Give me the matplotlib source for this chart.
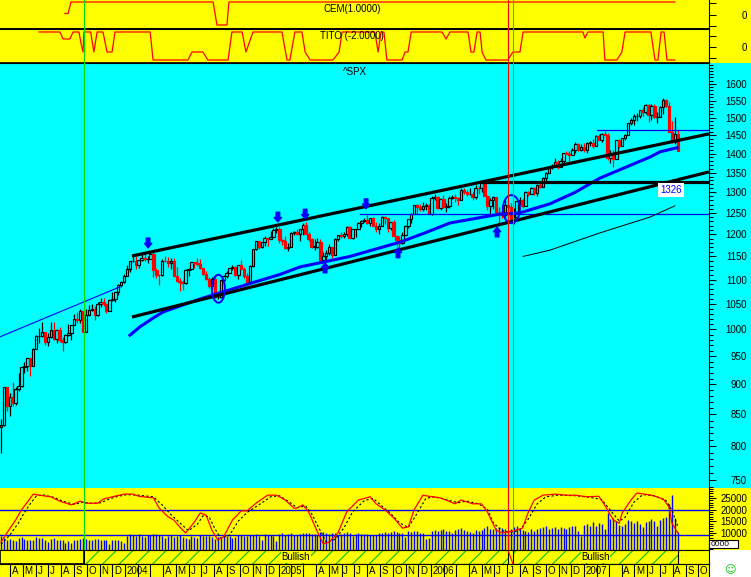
import numpy as np
import pandas as pd
import matplotlib
matplotlib.use("Agg")
import matplotlib.pyplot as plt
from matplotlib.patches import Rectangle, Ellipse
from matplotlib.transforms import ScaledTranslation, offset_copy
from matplotlib.ticker import FixedLocator, NullFormatter, NullLocator, FuncFormatter

plt.rcParams['font.family'] = ['Liberation Sans', 'DejaVu Sans']
plt.rcParams['hatch.linewidth'] = 0.8

YELLOW = '#FFFF00'
CYAN = '#00FFFF'
RED = '#FF0000'
BLUE = '#0000FF'
GREEN = '#00E000'

# weekly ^SPX candles, week 0 = week of 10 Mar 2003
opens = [829, 833, 895, 863, 878, 868, 893, 898, 930, 933, 946, 933, 964, 987, 988, 995, 976, 985, 998, 982,
         998, 980, 977, 990, 993, 1008, 1021, 1018, 1036, 996, 1029, 1038, 1039, 1028, 1050, 1053, 1050, 1035, 1058, 1061,
         1074, 1088, 1095,
         1108, 1122, 1139, 1141, 1131, 1142, 1146, 1144, 1145, 1156, 1120, 1110, 1109, 1141, 1139, 1135, 1140, 1107,
         1098, 1096, 1093, 1121, 1122, 1137, 1135, 1134, 1125, 1112, 1101, 1086, 1102, 1064, 1064, 1099, 1107, 1114,
         1124, 1128, 1110, 1131, 1122, 1108, 1095, 1130, 1166, 1185, 1171, 1182, 1191, 1189, 1194, 1210,
         1212, 1186, 1184, 1168, 1171, 1203, 1206, 1201, 1211, 1222, 1201, 1190, 1172, 1172, 1182, 1142, 1152, 1157,
         1172, 1154, 1189, 1198, 1196, 1201, 1216, 1191, 1211, 1212, 1227, 1230, 1234, 1226, 1237, 1220, 1212, 1218,
         1241, 1237, 1215, 1229, 1196, 1187, 1179, 1198, 1220, 1235, 1248, 1268, 1265, 1259, 1267, 1268,
         1248, 1285, 1288, 1262, 1284, 1264, 1267, 1287, 1289, 1287, 1282, 1307, 1302, 1295, 1295, 1289, 1311, 1310,
         1325, 1291, 1267, 1280, 1288, 1253, 1252, 1245, 1270, 1265, 1236, 1240, 1278, 1280, 1266, 1302, 1296, 1311,
         1299, 1319, 1314, 1336, 1350, 1365, 1368, 1377, 1364, 1380, 1401, 1400, 1396, 1409, 1427, 1410,
         1418, 1409, 1430, 1430, 1422, 1449, 1438, 1455, 1451, 1388, 1402, 1386, 1437, 1421, 1443, 1452, 1484, 1494,
         1505, 1505, 1522, 1515, 1536, 1507, 1533, 1502, 1503, 1530, 1553, 1534, 1458, 1433, 1453]
highs = [842, 896, 895, 885, 905, 896, 920, 931, 939, 947, 946, 965, 990, 1002, 1015, 995, 994, 1015, 1015, 1000,
         1004, 985, 992, 1011, 1009, 1030, 1033, 1040, 1036, 1039, 1048, 1049, 1045, 1053, 1062, 1063, 1050, 1060, 1074, 1075,
         1091, 1098, 1112,
         1131, 1140, 1155, 1150, 1143, 1158, 1158, 1151, 1163, 1160, 1125, 1112, 1144, 1150, 1148, 1146, 1147, 1127,
         1103, 1099, 1123, 1124, 1137, 1137, 1146, 1145, 1125, 1119, 1105, 1106, 1109, 1075, 1100, 1110, 1119, 1125,
         1131, 1129, 1131, 1142, 1127, 1115, 1131, 1167, 1185, 1185, 1182, 1197, 1192, 1207, 1214, 1217,
         1217, 1190, 1196, 1180, 1205, 1208, 1212, 1212, 1225, 1229, 1206, 1192, 1189, 1191, 1190, 1159, 1164, 1178,
         1172, 1192, 1199, 1205, 1204, 1219, 1219, 1204, 1212, 1229, 1234, 1237, 1245, 1237, 1240, 1229, 1227, 1243,
         1243, 1237, 1229, 1234, 1198, 1197, 1204, 1221, 1235, 1249, 1268, 1272, 1272, 1276, 1275, 1271,
         1290, 1295, 1290, 1286, 1294, 1275, 1292, 1294, 1297, 1289, 1310, 1310, 1306, 1310, 1300, 1318, 1316, 1326,
         1326, 1294, 1285, 1290, 1288, 1263, 1263, 1280, 1281, 1274, 1261, 1281, 1289, 1283, 1303, 1303, 1313, 1314,
         1322, 1328, 1340, 1353, 1366, 1372, 1389, 1382, 1389, 1403, 1407, 1407, 1416, 1431, 1430, 1427,
         1429, 1431, 1435, 1441, 1452, 1453, 1457, 1461, 1456, 1411, 1411, 1438, 1439, 1444, 1454, 1485, 1498, 1510,
         1514, 1523, 1530, 1540, 1540, 1539, 1540, 1515, 1533, 1556, 1555, 1546, 1489, 1503, 1466]
lows = [789, 831, 855, 847, 864, 865, 888, 896, 920, 924, 915, 932, 963, 975, 985, 970, 969, 983, 980, 974,
        976, 960, 974, 988, 980, 1008, 1012, 1013, 995, 995, 1027, 1036, 1018, 1027, 1044, 1045, 1031, 1035, 1055, 1053,
        1068, 1084, 1094,
        1108, 1117, 1137, 1122, 1124, 1139, 1139, 1136, 1145, 1106, 1103, 1088, 1108, 1138, 1126, 1122, 1107, 1098,
        1076, 1079, 1090, 1107, 1120, 1124, 1130, 1123, 1109, 1100, 1083, 1078, 1062, 1060, 1063, 1096, 1104, 1114,
        1120, 1108, 1101, 1122, 1103, 1090, 1092, 1128, 1164, 1167, 1169, 1173, 1173, 1189, 1194, 1203,
        1180, 1175, 1167, 1163, 1171, 1198, 1199, 1184, 1198, 1200, 1185, 1169, 1165, 1169, 1142, 1136, 1143, 1154,
        1146, 1154, 1185, 1191, 1192, 1196, 1191, 1188, 1194, 1211, 1217, 1228, 1223, 1218, 1218, 1206, 1201, 1218,
        1224, 1205, 1209, 1195, 1173, 1168, 1178, 1198, 1215, 1227, 1248, 1247, 1255, 1255, 1258, 1248,
        1245, 1280, 1260, 1258, 1262, 1253, 1261, 1283, 1277, 1268, 1281, 1295, 1291, 1294, 1280, 1283, 1295, 1302,
        1291, 1256, 1245, 1259, 1254, 1219, 1238, 1237, 1260, 1235, 1224, 1240, 1269, 1262, 1266, 1290, 1295, 1294,
        1291, 1310, 1314, 1327, 1348, 1359, 1366, 1360, 1364, 1372, 1398, 1375, 1396, 1403, 1408, 1407,
        1404, 1403, 1420, 1416, 1420, 1438, 1433, 1450, 1384, 1374, 1364, 1386, 1416, 1421, 1438, 1452, 1478, 1480,
        1491, 1498, 1505, 1510, 1487, 1492, 1500, 1484, 1503, 1510, 1530, 1458, 1430, 1427, 1406]
closes = [833, 895, 863, 878, 868, 893, 898, 930, 933, 946, 933, 964, 987, 988, 995, 976, 985, 998, 982, 998,
          980, 977, 990, 993, 1008, 1021, 1018, 1036, 996, 1029, 1038, 1039, 1028, 1050, 1053, 1050, 1035, 1058, 1061, 1074,
          1088, 1095, 1108,
          1122, 1139, 1141, 1131, 1142, 1146, 1144, 1145, 1156, 1120, 1110, 1109, 1141, 1139, 1135, 1140, 1107, 1098,
          1096, 1093, 1121, 1122, 1137, 1135, 1134, 1125, 1112, 1101, 1086, 1102, 1064, 1064, 1099, 1107, 1114, 1124,
          1128, 1110, 1131, 1122, 1108, 1095, 1130, 1166, 1185, 1171, 1182, 1191, 1189, 1194, 1210, 1212,
          1186, 1184, 1168, 1171, 1203, 1206, 1201, 1211, 1222, 1201, 1190, 1172, 1172, 1182, 1142, 1152, 1157, 1172,
          1154, 1189, 1198, 1196, 1201, 1216, 1191, 1211, 1212, 1227, 1230, 1234, 1226, 1237, 1220, 1212, 1218, 1241,
          1237, 1215, 1229, 1196, 1187, 1179, 1198, 1220, 1235, 1248, 1268, 1265, 1259, 1267, 1268, 1248,
          1285, 1288, 1262, 1284, 1264, 1267, 1287, 1289, 1287, 1282, 1307, 1302, 1295, 1295, 1289, 1311, 1310, 1325,
          1291, 1267, 1280, 1288, 1253, 1252, 1245, 1270, 1265, 1236, 1240, 1278, 1280, 1266, 1302, 1296, 1311, 1299,
          1319, 1314, 1336, 1350, 1365, 1368, 1377, 1364, 1380, 1401, 1400, 1396, 1409, 1427, 1410, 1418,
          1409, 1430, 1430, 1422, 1449, 1438, 1455, 1451, 1388, 1402, 1386, 1437, 1421, 1443, 1452, 1484, 1494, 1505,
          1505, 1522, 1515, 1536, 1507, 1533, 1502, 1503, 1530, 1553, 1534, 1458, 1433, 1453, 1407]
# weekly volume, thousands
volume_k = [8.5, 8.0, 7.2, 7.5, 7.0, 6.5, 7.8, 8.2, 7.5, 7.0, 6.8, 7.2, 8.4, 7.9, 8.0, 7.1, 6.2, 7.5, 8.0, 7.2,
            7.0, 6.8, 5.8, 6.5, 5.5, 7.0, 7.2, 7.4, 8.0, 7.6, 7.0, 6.8, 7.3, 7.4, 7.1, 6.9, 6.8, 5.2, 6.9, 7.2,
            7.0, 6.6, 5.5,
            8.5, 9.4, 9.2, 8.8, 9.5, 8.5, 8.2, 9.0, 9.3, 9.6, 9.7, 9.0, 8.6, 8.0, 8.8, 9.0, 8.4, 8.9, 9.1, 8.2,
            7.8, 7.6, 8.7, 8.4, 7.9, 9.2, 8.5, 8.8, 8.9, 8.1, 7.5, 8.3, 7.9, 8.6, 8.8, 8.5, 8.0, 8.4, 9.0, 9.2,
            8.7, 8.9, 9.3, 9.0, 9.4, 8.6, 7.2, 9.5, 9.1, 9.3, 8.8, 6.5,
            9.5, 9.8, 9.2, 9.6, 9.9, 9.3, 9.0, 9.4, 9.8, 10.2, 10.0, 9.7, 9.4, 9.1, 10.5, 10.3, 9.8, 9.6, 9.9, 10.1,
            9.2, 9.7, 9.8, 10.4, 10.0, 8.9, 9.5, 9.9, 9.7, 9.4, 9.6, 9.3, 9.0, 9.2, 9.8, 10.2, 10.5, 10.0, 10.6, 10.7,
            10.3, 10.1, 10.0, 8.4, 10.8, 10.6, 10.9, 10.7, 9.8, 10.2, 7.5, 7.9,
            10.9, 11.2, 10.8, 11.4, 11.6, 11.0, 10.9, 10.2, 11.1, 11.5, 12.0, 11.3, 11.0, 10.6, 10.2, 11.2, 10.9, 11.4,
            12.2, 12.8, 11.9, 11.6, 12.0, 12.6, 12.2, 11.8, 11.0, 11.5, 12.4, 12.9, 11.8, 11.2, 10.8, 10.5, 11.6, 10.9,
            11.7, 12.3, 12.5, 12.8, 11.9, 12.2, 12.6, 11.9, 12.4, 12.0, 11.5, 12.7, 12.9, 13.2, 11.0, 8.5,
            13.5, 14.0, 13.2, 14.5, 13.0, 14.2, 13.8, 11.5, 18.5, 16.0, 16.5, 15.0, 13.5, 12.8, 14.0, 15.5, 15.0, 14.2,
            15.2, 13.8, 12.5, 14.8, 15.3, 16.0, 15.2, 12.9, 15.6, 16.5, 17.0, 22.5, 26.5, 16.5, 10.5]

# overlays on the price panel (week, price)
ma_weeks = [44.0, 47.4, 51.9, 55.3, 61.1, 67.9, 85.0, 95.2, 102.0, 119.1, 136.2, 144.7, 153.2, 164.5, 170.3,
            177.1, 187.4, 195.9, 204.4, 221.5, 224.9, 230.7]
ma_vals = [989, 1005, 1022, 1034, 1046, 1060, 1092, 1111, 1127, 1150, 1182, 1203, 1226, 1240, 1247,
           1250, 1272, 1300, 1336, 1391, 1405, 1416]
long_ma_weeks = [178.2, 187.4, 204.4, 221.5, 230.0]
long_ma_vals = [1150, 1164, 1203, 1240, 1267]
upper_channel = ([44.7, 241.6], [1151, 1454])
lower_channel = ([44.7, 241.6], [1024, 1352])
support_1326 = ([163.5, 241.6], [1326, 1326])
early_trend = ([-0.34, 40.6], [986, 1085])
blue_level_low = ([122.5, 241.6], [1247, 1247])
blue_level_high = ([203.4, 241.6], [1465, 1465])
down_arrows = [(50.2, 1180), (94.5, 1240), (103.8, 1247), (124.6, 1272)]
up_arrows = [(110.6, 1125), (135.5, 1158), (169.3, 1205)]
circles = [(74.2, 1081, 0.13, 0.28), (174.2, 1259, 0.17, 0.28)]
cursor_green = [28.33, 174.74]
cursor_red = [173.0]

# indicator panels (week, value)
cem_weeks = [21.8, 22.9, 23.9, 72.4, 73.7, 77.1, 77.8, 230.0]
cem_vals = [0, 0, 1, 1, -1, -1, 1, 1]
tito_weeks = [13.0, 20.1, 21.2, 23.5, 24.6, 26.6, 27.3, 28.0, 28.3, 29.4, 30.6, 31.7, 32.8, 34.8, 36.2, 37.9, 38.9,
              50.9, 51.9, 63.8, 65.2, 68.9, 70.6, 77.5, 78.8, 82.3, 83.6, 86.0, 95.9, 97.6, 98.6, 100.3, 102.7,
              103.8, 105.5, 113.3, 115.4, 116.4, 127.6, 128.7, 129.7, 130.7, 131.7, 136.9, 137.9, 138.9, 140.0,
              150.5, 151.9, 153.2, 159.4, 160.4, 161.4, 162.5, 163.5, 164.2, 165.5, 173.0, 174.7, 177.1, 178.2,
              198.6, 199.3, 200.3, 205.5, 206.1, 210.2, 211.9, 213.0, 221.8, 223.2, 224.2, 225.3, 226.3, 227.3, 230.0]
tito_vals = [1.0, 1.0, 0.5, 0.5, 1.0, 1.0, 0.2, -0.43, 1.0, 1.0, 1.0, -0.43, 1.0, 1.0, -0.43, -0.43, 1.0,
             1.0, -1.0, -1.0, -0.43, -0.43, -1.0, -1.0, 1.0, 1.0, -0.43, 1.0, 1.0, -1.0, -1.0, 1.0, 1.0,
             -0.43, -1.0, -1.0, -0.43, 1.0, 1.0, -0.43, 1.0, 1.0, -1.0, -1.0, -0.43, -0.43, 1.0,
             1.0, 0.5, 1.0, 1.0, -0.43, -0.43, 1.0, 1.0, -0.43, -1.0, -1.0, -0.43, -0.43, 1.0,
             1.0, 0.57, 1.0, 1.0, -1.0, -1.0, -0.43, 1.0, 1.0, -1.0, -1.0, 1.0, 1.0, -1.0, -1.0]
stoch_k_weeks = [0, 2, 5, 7, 9, 11, 13, 17, 20, 24, 27, 29, 33, 35, 38, 42, 45, 47, 52, 54, 57, 59, 61, 63, 66,
                 68, 70, 72, 74, 76, 79, 82, 84, 87, 91, 94, 97, 100, 101, 103, 105, 108, 110, 112, 115, 118,
                 122, 126, 128, 131, 134, 137, 139, 141, 144, 146, 150, 155, 157, 161, 164, 166, 169, 171, 173,
                 175, 178, 180, 182, 185, 189, 193, 196, 200, 204, 206, 209, 211, 212, 215, 217, 222, 226, 228,
                 229, 231]
stoch_k = [9, 26, 50, 69, 83, 98, 96, 93, 85, 78, 85, 81, 81, 89, 93, 98, 98, 94, 91, 72, 56, 50, 37, 26, 46,
           63, 59, 31, 13, 19, 50, 67, 67, 81, 96, 96, 87, 72, 72, 78, 65, 28, 6, 9, 26, 65,
           87, 93, 80, 69, 54, 35, 37, 69, 96, 94, 91, 80, 87, 80, 80, 65, 31, 26, 28,
           30, 35, 65, 87, 96, 98, 96, 96, 93, 94, 78, 50, 44, 63, 87, 100, 96, 89, 74,
           44, 26]
stoch_d_weeks = [0, 3, 6, 8, 10, 12, 14, 18, 21, 25, 28, 31, 34, 37, 40, 43, 47, 52, 55, 58, 61, 64, 67, 69, 71,
                 73, 75, 78, 81, 84, 88, 92, 95, 98, 101, 104, 106, 109, 111, 114, 117, 120, 124, 127, 130, 133,
                 136, 139, 142, 145, 148, 151, 156, 159, 163, 166, 168, 171, 174, 177, 180, 183, 186, 190, 196,
                 201, 205, 208, 211, 213, 216, 219, 223, 227, 229, 231]
stoch_d = [5, 22, 45, 64, 80, 94, 97, 92, 85, 79, 83, 81, 82, 89, 94, 97, 96, 93, 78, 60, 45, 30, 42, 58, 56,
           34, 16, 22, 48, 64, 78, 93, 95, 85, 73, 76, 62, 30, 9, 14, 35, 65, 86, 90, 76, 62,
           45, 36, 62, 90, 93, 89, 82, 85, 80, 70, 45, 30, 27, 31, 52, 80, 93, 96, 95,
           92, 88, 68, 48, 55, 83, 97, 95, 86, 68, 38]
vol_levels = [20000, 9150]
bullish_spans = [(28.33, 173.0), (174.74, 231.06)]

W, H = 751, 577
XLIM = (-1 / 2.93, 708 / 2.93)
fig = plt.figure(figsize=(W / 100, H / 100), dpi=100)
fig.patch.set_facecolor('white')


def rect(top, bottom):
    return [0, 1 - bottom / H, 709 / W, (bottom - top) / H]


# right margin backgrounds
for top, bottom, col in [(0, 62.5, YELLOW), (62.5, 488, CYAN), (488, 550, YELLOW)]:
    fig.add_artist(Rectangle((709 / W, 1 - bottom / H), 42 / W, (bottom - top) / H,
                             transform=fig.transFigure, facecolor=col, edgecolor='none', zorder=-1))


def style(a, bg, top=True, bottom=True):
    a.set_facecolor(bg)
    a.set_xlim(XLIM)
    a.xaxis.set_major_locator(NullLocator())
    a.xaxis.set_minor_locator(NullLocator())
    a.spines['left'].set_visible(False)
    a.spines['top'].set_visible(top)
    a.spines['bottom'].set_visible(bottom)
    for s in a.spines.values():
        s.set_linewidth(0.8)
        s.set_color('black')
    a.yaxis.tick_right()
    a.tick_params(axis='y', which='major', direction='out', length=5, width=0.72, pad=22.4,
                  labelsize=7, colors='black')
    a.tick_params(axis='y', which='minor', direction='out', length=2.9, width=0.72)


def right_align(a):
    for t in a.yaxis.get_major_ticks():
        t.label2.set_horizontalalignment('right')


# CEM panel
ax_cem = fig.add_axes(rect(0, 29))
style(ax_cem, YELLOW, top=False)
ax_cem.spines['bottom'].set_linewidth(1.4)
ax_cem.set_ylim(-1.348, 1.174)
ax_cem.plot(cem_weeks, cem_vals, color=RED, lw=0.9)
ax_cem.yaxis.set_major_locator(FixedLocator([0.94, -0.13, -1.09]))
ax_cem.yaxis.set_major_formatter(FuncFormatter(lambda v, p: '0' if p == 1 else ''))
right_align(ax_cem)
ax_cem.text(0.497, 0.70, 'CEM(1.0000)', transform=ax_cem.transAxes, ha='center', va='center', fontsize=7)

# TITO panel
ax_tito = fig.add_axes(rect(29, 62.5))
style(ax_tito, YELLOW)
ax_tito.spines['bottom'].set_linewidth(1.2)
ax_tito.set_ylim(-1.179, 1.214)
ax_tito.plot(tito_weeks, tito_vals, color=RED, lw=0.9)
ax_tito.yaxis.set_major_locator(FixedLocator([0.736, -0.05, -0.879]))
ax_tito.yaxis.set_major_formatter(FuncFormatter(lambda v, p: '0' if p == 1 else ''))
right_align(ax_tito)
ax_tito.text(0.497, 0.78, 'TITO (-2.0000)', transform=ax_tito.transAxes, ha='center', va='center', fontsize=7)

# price panel
ax = fig.add_axes(rect(62.5, 488))
style(ax, CYAN, bottom=False)
ax.set_yscale('log')
ax.set_ylim(738.2, 1667)
ax.yaxis.set_major_locator(FixedLocator(list(range(750, 1601, 50))))
ax.yaxis.set_minor_locator(FixedLocator(list(range(740, 1661, 10))))
ax.yaxis.set_major_formatter(FuncFormatter(lambda v, p: f'{v:.0f}'))
ax.yaxis.set_minor_formatter(NullFormatter())
ax.tick_params(axis='y', which='minor', length=2.9, width=0.72)
right_align(ax)

for i, (o, h, l, c) in enumerate(zip(opens, highs, lows, closes)):
    up = c >= o
    col = 'black' if up else RED
    ax.vlines(i, l, h, color=col, lw=0.9, zorder=2)
    lo, hi = min(o, c), max(o, c)
    ax.add_patch(Rectangle((i - 0.42, lo), 0.84, max(hi - lo, 0.8), facecolor=CYAN if up else RED,
                           edgecolor=col, lw=0.85, zorder=2.5))

ax.plot(*early_trend, color=BLUE, lw=0.8, zorder=3)
ax.plot(*blue_level_low, color=BLUE, lw=0.9, zorder=3)
ax.plot(*blue_level_high, color=BLUE, lw=0.9, zorder=3)
ax.plot(ma_weeks, ma_vals, color=BLUE, lw=2.2, zorder=3.5)
ax.plot(long_ma_weeks, long_ma_vals, color='black', lw=0.7, zorder=3)
for line in (upper_channel, lower_channel, support_1326):
    ax.plot(*line, color='black', lw=2.3, zorder=4, solid_capstyle='butt')

for w, p in down_arrows + up_arrows:
    up = (w, p) in up_arrows
    s = 3.5
    tip = offset_copy(ax.transData, fig=fig, x=0, y=s if up else -s, units='points')
    tail = offset_copy(ax.transData, fig=fig, x=0, y=-s if up else s, units='points')
    ax.annotate('', xy=(w, p), xycoords=tip, xytext=(w, p), textcoords=tail,
                arrowprops=dict(arrowstyle='simple,head_length=0.5,head_width=0.8,tail_width=0.4',
                                color=BLUE, shrinkA=0, shrinkB=0, mutation_scale=6.5), zorder=5)

for w, p, ew, eh in circles:
    ax.add_patch(Ellipse((0, 0), ew, eh, transform=fig.dpi_scale_trans + ScaledTranslation(w, p, ax.transData),
                         fill=False, edgecolor=BLUE, lw=1.4, zorder=5))

ax.text(228.7, 1306, '1326', color=BLUE, fontsize=7, ha='center', va='center', zorder=6,
        bbox=dict(facecolor='white', edgecolor='none', pad=1.5))
ax.text(0.5, 0.978, '^SPX', transform=ax.transAxes, ha='center', va='center', fontsize=7)

# volume / stochastic panel
axv = fig.add_axes(rect(488, 550))
style(axv, YELLOW, top=False)
axv.set_ylim(2714, 29286)
axv.yaxis.set_major_locator(FixedLocator([5000, 10000, 15000, 20000, 25000]))
axv.yaxis.set_minor_locator(FixedLocator(list(range(3000, 29001, 1000))))
axv.yaxis.set_major_formatter(FuncFormatter(lambda v, p: f'{v:.0f}' if v > 5000 else ''))
axv.yaxis.set_minor_formatter(NullFormatter())
right_align(axv)
axv.vlines(np.arange(len(volume_k)), 2714, np.array(volume_k) * 1000, color=BLUE, lw=1.0)
for lev in vol_levels:
    axv.axhline(lev, color=BLUE, lw=1.0)

axs = fig.add_axes(rect(488, 550))
axs.set_xlim(XLIM)
axs.set_ylim(-5.6, 109.3)
axs.axis('off')
axs.plot(stoch_d_weeks, stoch_d, color='black', lw=0.8, dashes=(2, 2))
axs.plot(stoch_k_weeks, stoch_k, color=RED, lw=0.9)

for a in (ax_cem, ax_tito, ax, axs):
    for w in cursor_green:
        a.axvline(w, color=GREEN, lw=0.8, zorder=6)
    for w in cursor_red:
        a.axvline(w, color=RED, lw=0.8, zorder=6)

# bullish regime strip
axb = fig.add_axes(rect(550, 564))
style(axb, YELLOW)
axb.set_ylim(0, 1)
axb.yaxis.set_major_locator(NullLocator())
for x0, x1 in bullish_spans:
    axb.add_patch(Rectangle((x0, 0), x1 - x0, 1, facecolor=YELLOW, edgecolor='#00C000', hatch='//', lw=0))
    axb.add_patch(Rectangle((x0, 0), x1 - x0, 1, fill=False, edgecolor='black', lw=0.8))
    axb.text((x0 + x1) / 2, 0.5, 'Bullish', ha='center', va='center', fontsize=7,
             bbox=dict(facecolor=YELLOW, edgecolor='none', pad=0.5))
axb.add_patch(Rectangle((XLIM[0], 0), bullish_spans[0][0] - XLIM[0], 1, fill=False, edgecolor='black', lw=1.2))
axb.plot([bullish_spans[0][1], bullish_spans[1][0]], [1, 0], color=RED, lw=0.8)

# month axis
axm = fig.add_axes(rect(564, 577))
style(axm, YELLOW, bottom=False)
axm.set_ylim(0, 1)
axm.yaxis.set_major_locator(NullLocator())
start = pd.Timestamp('2003-03-10')
for d in pd.date_range('2003-04-01', '2007-10-01', freq='MS'):
    w = (d - start).days / 7
    axm.axvline(w, color='black', lw=0.8)
    if d.month == 1:
        lab = str(d.year)
    elif d.month in (2, 3):
        lab = ''
    else:
        lab = d.strftime('%b')[0]
    axm.text(w + 0.55, 0.45, lab, ha='left', va='center', fontsize=7)

# corner details
fig.add_artist(Rectangle((709 / W, 1 - 548 / H), 29 / W, 8 / H, transform=fig.transFigure,
                         facecolor='white', edgecolor='black', lw=0.8, zorder=5))
fig.text(711 / W, 1 - 544 / H, '0000', fontsize=6, ha='left', va='center', zorder=6)
fig.text(730 / W, 1 - 570 / H, '\u263A', color='#00C000', fontsize=8, ha='center', va='center',
         family='DejaVu Sans')

fig.savefig('out.png', dpi=100, facecolor=fig.get_facecolor())
